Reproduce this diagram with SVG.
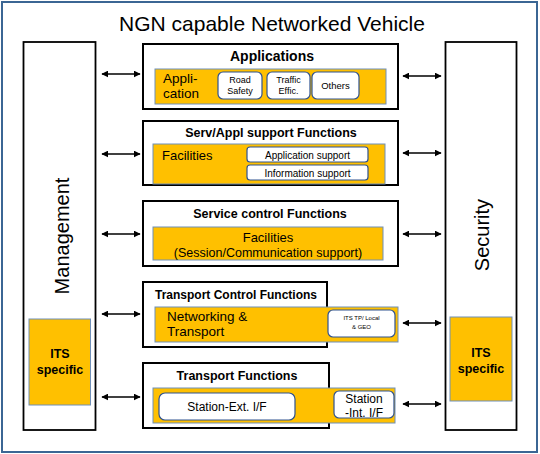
<svg xmlns="http://www.w3.org/2000/svg" width="540" height="454" viewBox="0 0 540 454">
<defs>
<marker id="ah" viewBox="0 0 10 10" refX="9" refY="5" markerWidth="7" markerHeight="7" markerUnits="userSpaceOnUse" orient="auto-start-reverse">
<path d="M0,0 L10,5 L0,10 z" fill="#000"/>
</marker>
<style>
text{font-family:"Liberation Sans",Arial,sans-serif;fill:#000}
.layer{fill:#fff;stroke:#000;stroke-width:2}
.side{fill:#fff;stroke:#000;stroke-width:1.8}
.bar{fill:#FFC000;stroke:#6F8FB8;stroke-width:1}
.sub{fill:#fff;stroke:#2F528F;stroke-width:1.2}
.b{font-weight:bold}
.m{text-anchor:middle}
.arr{stroke:#000;stroke-width:1.3;fill:none;marker-start:url(#ah);marker-end:url(#ah)}
</style>
</defs>
<rect x="2" y="2" width="535" height="450" fill="#fff" stroke="#3B6694" stroke-width="2"/>
<text x="272" y="31" class="m" font-size="21">NGN capable Networked Vehicle</text>

<g id="management">
<rect class="side" x="23.5" y="42" width="72" height="388"/>
<text transform="translate(69,236) rotate(-90)" class="m" font-size="20">Management</text>
<rect class="bar" x="29" y="319" width="61.5" height="86"/>
<text x="60" y="358" class="m b" font-size="12.5">ITS</text>
<text x="60" y="374" class="m b" font-size="12.5">specific</text>
</g>

<g id="security">
<rect class="side" x="445.5" y="42" width="71" height="388"/>
<text transform="translate(489,235) rotate(-90)" class="m" font-size="20">Security</text>
<rect class="bar" x="450" y="317" width="62" height="84"/>
<text x="481" y="357" class="m b" font-size="12.5">ITS</text>
<text x="481" y="373" class="m b" font-size="12.5">specific</text>
</g>

<g id="applications">
<rect class="layer" x="143" y="44" width="255" height="65"/>
<text x="272" y="61" class="m b" font-size="14">Applications</text>
<rect class="bar" x="155" y="69" width="231" height="35"/>
<text x="163" y="83" font-size="13.5">Appli-</text>
<text x="163" y="98" font-size="13.5">cation</text>
<rect class="sub" x="218" y="72" width="44" height="27" rx="5"/>
<text x="240" y="83" class="m" font-size="9">Road</text>
<text x="240" y="94" class="m" font-size="9">Safety</text>
<rect class="sub" x="267" y="72" width="43" height="27" rx="5"/>
<text x="288.5" y="82.5" class="m" font-size="9">Traffic</text>
<text x="288.5" y="93.5" class="m" font-size="9">Effic.</text>
<rect class="sub" x="312" y="72" width="47" height="27" rx="5"/>
<text x="335.5" y="89" class="m" font-size="9.5">Others</text>
</g>

<g id="serv-appl">
<rect class="layer" x="143" y="121" width="255" height="64"/>
<text x="271" y="137" class="m b" font-size="12.5">Serv/Appl support Functions</text>
<rect class="bar" x="153" y="144" width="232" height="40"/>
<text x="162" y="160" font-size="13">Facilities</text>
<rect class="sub" x="247" y="147" width="121" height="15" rx="3"/>
<text x="307.5" y="158.5" class="m" font-size="10">Application support</text>
<rect class="sub" x="247" y="165" width="121" height="15" rx="3"/>
<text x="307.5" y="176.5" class="m" font-size="10">Information support</text>
</g>

<g id="service-control">
<rect class="layer" x="143" y="201" width="255" height="65"/>
<text x="270" y="218" class="m b" font-size="12.5">Service control Functions</text>
<rect class="bar" x="153" y="227" width="230" height="33"/>
<text x="268" y="242" class="m" font-size="13">Facilities</text>
<text x="268" y="257" class="m" font-size="12.5">(Session/Communication support)</text>
</g>

<g id="transport-control">
<rect class="layer" x="143" y="282" width="184" height="65"/>
<text x="155" y="299" class="b" font-size="12">Transport Control Functions</text>
<rect class="bar" x="155" y="307" width="243" height="35"/>
<text x="167" y="321" font-size="13.5">Networking &amp;</text>
<text x="167" y="336" font-size="13.5">Transport</text>
<rect class="sub" x="328" y="310" width="67" height="27" rx="5"/>
<text x="361.5" y="320" class="m" font-size="6">ITS TP/ Local</text>
<text x="361.5" y="329" class="m" font-size="6">&amp; GEO</text>
</g>

<g id="transport">
<rect class="layer" x="143" y="363" width="186" height="65"/>
<text x="237" y="380" class="m b" font-size="12.5">Transport Functions</text>
<rect class="bar" x="153" y="388" width="242" height="35"/>
<rect class="sub" x="159" y="393" width="136" height="27" rx="6"/>
<text x="227" y="411" class="m" font-size="12">Station-Ext. I/F</text>
<rect class="sub" x="334" y="391" width="60" height="27" rx="5"/>
<text x="364" y="403" class="m" font-size="12">Station</text>
<text x="364" y="417" class="m" font-size="12">-Int. I/F</text>
</g>

<g id="connectors">
<line class="arr" x1="102" y1="74" x2="140" y2="74"/>
<line class="arr" x1="102" y1="154" x2="140" y2="154"/>
<line class="arr" x1="102" y1="234" x2="140" y2="234"/>
<line class="arr" x1="102" y1="314" x2="140" y2="314"/>
<line class="arr" x1="102" y1="397" x2="140" y2="397"/>
<line class="arr" x1="403" y1="76" x2="441" y2="76"/>
<line class="arr" x1="403" y1="153" x2="441" y2="153"/>
<line class="arr" x1="403" y1="234" x2="441" y2="234"/>
<line class="arr" x1="403" y1="323" x2="441" y2="323"/>
<line class="arr" x1="403" y1="404" x2="441" y2="404"/>
</g>
</svg>
